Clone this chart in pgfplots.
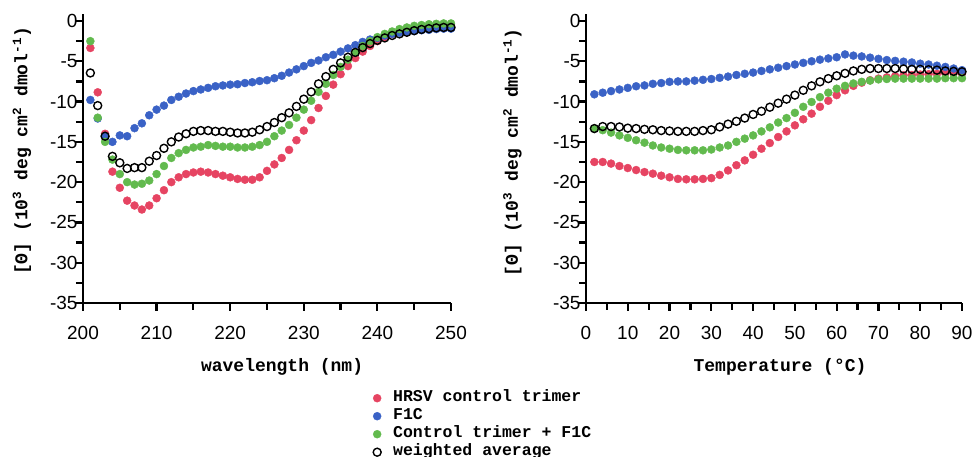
\documentclass[border=0pt]{standalone}
\usepackage{fontspec}
\setmainfont{Liberation Sans}
\newfontfamily\mono{Liberation Mono}
\usepackage{pgfplots}
\usepackage{pgfplotstable}
\pgfplotsset{compat=1.18}
\definecolor{cred}{RGB}{230,68,98}
\definecolor{cblue}{RGB}{58,98,198}
\definecolor{cgreen}{RGB}{98,186,78}

\pgfplotstableread{
x r b g k
201 -3.35 -9.8 -2.5 -6.45
202 -8.85 -12.1 -12.0 -10.5
203 -14.0 -14.3 -15.0 -14.3
204 -18.7 -15.0 -17.2 -16.8
205 -20.7 -14.2 -19.0 -17.6
206 -22.3 -14.3 -20.0 -18.3
207 -22.9 -13.3 -20.3 -18.2
208 -23.4 -12.7 -20.2 -18.2
209 -22.9 -11.7 -19.8 -17.4
210 -22.0 -11.0 -19.0 -16.7
211 -21.0 -10.5 -18.0 -15.8
212 -20.0 -9.8 -17.0 -15.0
213 -19.4 -9.4 -16.4 -14.4
214 -19.0 -9.0 -16.0 -14.0
215 -18.8 -8.7 -15.7 -13.7
216 -18.7 -8.5 -15.6 -13.6
217 -18.8 -8.3 -15.4 -13.6
218 -19.0 -8.1 -15.5 -13.7
219 -19.2 -8.0 -15.6 -13.7
220 -19.4 -7.9 -15.6 -13.8
221 -19.6 -7.85 -15.7 -13.9
222 -19.7 -7.7 -15.7 -13.9
223 -19.7 -7.6 -15.6 -13.8
224 -19.4 -7.45 -15.4 -13.5
225 -18.6 -7.35 -15.0 -13.1
226 -17.8 -7.1 -14.3 -12.6
227 -17.0 -6.8 -13.6 -12.0
228 -16.0 -6.4 -12.9 -11.4
229 -14.8 -6.0 -12.0 -10.6
230 -13.6 -5.6 -11.0 -9.7
231 -12.3 -5.2 -9.9 -8.8
232 -10.8 -4.9 -8.8 -7.8
233 -9.3 -4.5 -7.8 -6.9
234 -7.9 -4.2 -6.7 -6.0
235 -6.6 -3.8 -5.7 -5.2
236 -5.6 -3.4 -4.8 -4.5
237 -4.6 -3.0 -3.9 -3.9
238 -3.8 -2.6 -3.1 -3.3
239 -3.1 -2.3 -2.5 -2.8
240 -2.5 -2.1 -2.0 -2.4
241 -2.0 -1.8 -1.6 -2.1
242 -1.6 -1.6 -1.3 -1.8
243 -1.3 -1.45 -1.0 -1.6
244 -1.1 -1.3 -0.8 -1.4
245 -0.9 -1.25 -0.6 -1.2
246 -0.8 -1.15 -0.5 -1.05
247 -0.7 -1.1 -0.4 -0.95
248 -0.6 -1.0 -0.35 -0.85
249 -0.6 -0.95 -0.3 -0.8
250 -0.5 -0.95 -0.3 -0.8
}\wavetable

\pgfplotstableread{
x r b g k
2 -17.5 -9.1 -13.35 -13.35
4 -17.5 -8.9 -13.55 -13.1
6 -17.7 -8.7 -13.85 -13.1
8 -18.0 -8.5 -14.2 -13.15
10 -18.25 -8.3 -14.5 -13.3
12 -18.5 -8.1 -14.8 -13.35
14 -18.75 -8.0 -15.1 -13.45
16 -18.95 -7.8 -15.45 -13.5
18 -19.2 -7.7 -15.7 -13.6
20 -19.4 -7.55 -15.85 -13.65
22 -19.6 -7.5 -16.0 -13.7
24 -19.65 -7.5 -16.05 -13.7
26 -19.65 -7.4 -16.05 -13.7
28 -19.6 -7.3 -16.05 -13.6
30 -19.5 -7.2 -15.95 -13.5
32 -19.1 -7.05 -15.7 -13.15
34 -18.55 -6.9 -15.45 -12.8
36 -17.9 -6.7 -15.0 -12.45
38 -17.3 -6.55 -14.6 -12.05
40 -16.6 -6.4 -14.2 -11.6
42 -15.85 -6.2 -13.7 -11.2
44 -15.15 -6.0 -13.2 -10.7
46 -14.4 -5.8 -12.6 -10.2
48 -13.7 -5.6 -12.05 -9.7
50 -12.95 -5.4 -11.4 -9.2
52 -12.2 -5.2 -10.65 -8.6
54 -11.5 -5.0 -10.05 -8.05
56 -10.65 -4.8 -9.45 -7.55
58 -9.9 -4.65 -8.9 -7.15
60 -9.2 -4.5 -8.4 -6.8
62 -8.6 -4.15 -8.05 -6.5
64 -8.05 -4.3 -7.75 -6.2
66 -7.65 -4.4 -7.55 -6.0
68 -7.35 -4.55 -7.4 -5.9
70 -7.15 -4.7 -7.25 -5.9
72 -7.0 -4.85 -7.2 -5.9
74 -6.85 -4.95 -7.15 -5.9
76 -6.75 -5.05 -7.15 -5.95
78 -6.7 -5.15 -7.15 -6.0
80 -6.65 -5.3 -7.15 -6.0
82 -6.6 -5.4 -7.15 -6.05
84 -6.55 -5.55 -7.15 -6.1
86 -6.5 -5.7 -7.1 -6.2
88 -6.5 -5.9 -7.1 -6.25
90 -6.5 -6.1 -7.1 -6.3
}\temptable

\pgfplotsset{
  myax/.style={
    scale only axis, height=282pt,
    ymin=-35, ymax=0,
    ytick={-35,-30,...,0}, minor y tick num=1, minor x tick num=1,
    axis lines=left,
    axis line style={line width=2.4pt, -, black},
    y axis line style={shorten >=-7pt},
    xtick style={draw=black, line width=2.2pt},
    ytick style={draw=black, line width=2.2pt},
    minor tick style={draw=black, line width=2.2pt},
    major tick length=8pt, minor tick length=7pt,
    xtick align=outside, ytick align=outside,
    ticklabel style={font=\fontsize{19}{19}\selectfont},
    xticklabel style={yshift=-12pt},
    yticklabel style={xshift=6pt},
    /pgf/number format/assume math mode=true,
    label style={font=\mono\bfseries\fontsize{18}{18}\selectfont},
    clip=false,
  },
  dotr/.style={only marks, mark=*, mark size=4pt, mark options={draw=cred, fill=cred}},
  dotb/.style={only marks, mark=*, mark size=4pt, mark options={draw=cblue, fill=cblue}},
  dotg/.style={only marks, mark=*, mark size=4pt, mark options={draw=cgreen, fill=cgreen}},
  dotk/.style={only marks, mark=o, mark size=4pt, mark options={draw=black, line width=1.4pt}},
}

\begin{document}
\begin{tikzpicture}
\useasboundingbox (0,0) rectangle (975pt,457pt);
\begin{axis}[myax, at={(83pt,154pt)}, anchor=south west, width=368pt,
  xmin=200, xmax=250, xtick={200,210,...,250},
  xlabel={wavelength (nm)},
  xlabel style={at={(axis description cs:0.541,-0.227)}, anchor=center},
  ylabel={[Θ] (10\textsuperscript{3} deg cm\textsuperscript{2} dmol\textsuperscript{-1})},
  ylabel style={at={(axis description cs:-0.166,0.539)}, anchor=center},
  legend style={at={(axis description cs:0.788,-0.305)}, anchor=north west,
    draw=none, fill=none, inner sep=0pt, column sep=12pt,
    font=\mono\bfseries\fontsize{16.5}{16.5}\selectfont,
    nodes={inner sep=0pt, text height=12pt, text depth=6pt}},
  legend cell align=left,
  legend image code/.code={\draw[#1] plot coordinates {(0pt,0pt)};},
]
\addplot[dotr] table[x=x,y=r] {\wavetable};
\addplot[dotb] table[x=x,y=b] {\wavetable};
\addplot[dotg] table[x=x,y=g] {\wavetable};
\addplot[dotk] table[x=x,y=k] {\wavetable};
\legend{HRSV control trimer, F1C, Control trimer + F1C, weighted average}
\end{axis}
\begin{axis}[myax, at={(586pt,154pt)}, anchor=south west, width=376pt,
  xmin=0, xmax=90, xtick={0,10,...,90},
  xlabel={Temperature (°C)},
  xlabel style={at={(axis description cs:0.516,-0.227)}, anchor=center},
  ylabel={[Θ] (10\textsuperscript{3} deg cm\textsuperscript{2} dmol\textsuperscript{-1})},
  ylabel style={at={(axis description cs:-0.1955,0.535)}, anchor=center},
]
\addplot[dotr] table[x=x,y=r] {\temptable};
\addplot[dotb] table[x=x,y=b] {\temptable};
\addplot[dotg] table[x=x,y=g] {\temptable};
\addplot[dotk] table[x=x,y=k] {\temptable};
\end{axis}
\end{tikzpicture}
\end{document}
